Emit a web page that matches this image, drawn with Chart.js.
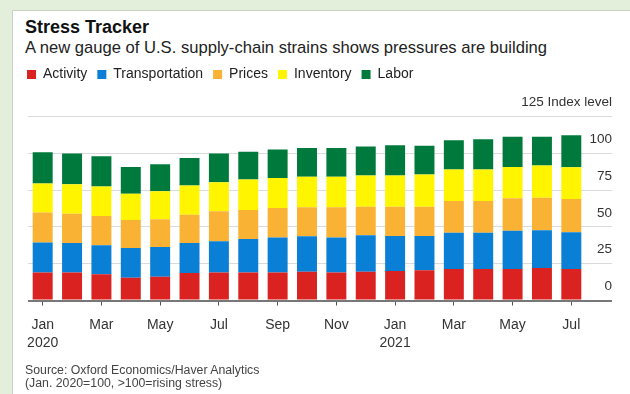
<!DOCTYPE html>
<html>
<head>
<meta charset="utf-8">
<script src="https://cdn.jsdelivr.net/npm/chart.js@4.4.1/dist/chart.umd.min.js"></script>
<style>
  html, body { margin: 0; padding: 0; }
  body {
    width: 630px; height: 394px; position: relative; overflow: hidden;
    background: #e3eedb;
    font-family: "Liberation Sans", Arial, sans-serif;
  }
  #panel {
    position: absolute; left: 12px; top: 10px; right: -2px; bottom: -2px;
    background: #fff; border: 1px solid #c9d5c2;
  }
  #stress { position: absolute; left: 0; top: 0; }
  .txt { position: absolute; left: 25px; line-height: 1; white-space: nowrap; }
  .title { top: 17.5px; font-size: 18px; font-weight: bold; color: #111; }
  .subtitle { top: 39.5px; font-size: 16.6px; color: #222; }
  .source { top: 363.5px; font-size: 12.3px; line-height: 13px; color: #444; }
</style>
</head>
<body>
<div id="panel"></div>
<div class="txt title">Stress Tracker</div>
<div class="txt subtitle">A new gauge of U.S. supply-chain strains shows pressures are building</div>
<canvas id="stress" width="630" height="394"></canvas>
<div class="txt source">Source: Oxford Economics/Haver Analytics<br>(Jan. 2020=100, &gt;100=rising stress)</div>

<script>
const months = ['Jan','Feb','Mar','Apr','May','Jun','Jul','Aug','Sep','Oct','Nov','Dec',
                'Jan','Feb','Mar','Apr','May','Jun','Jul'];
// only every other month gets a label, years under January
const tickLabels = [['Jan','2020'],'','Mar','','May','','Jul','','Sep','','Nov','',
                    ['Jan','2021'],'','Mar','','May','','Jul'];

const activity       = [19.1,19.1,17.8,15.5,16.2,18.7,19.1,19.1,19.1,19.6,19.1,19.6,20.1,20.5,21.4,21.4,21.4,22.1,21.4];
const transportation = [20.3,19.9,19.8,20.1,20.1,20.3,21.2,22.6,23.7,24.1,23.7,24.8,23.8,23.4,24.7,24.7,25.9,25.7,25.0];
const prices         = [20.3,20.0,19.8,19.1,18.9,19.3,20.3,19.8,20.0,19.6,20.5,19.3,19.8,19.8,21.5,21.5,22.1,22.0,22.5];
const inventory      = [19.8,19.9,20.1,17.8,19.1,19.9,19.8,20.7,20.5,20.7,20.7,21.2,21.2,21.9,21.4,21.4,21.3,21.9,21.6];
const labor          = [21.2,20.9,20.5,18.2,18.3,18.6,19.4,18.9,19.2,19.6,19.6,19.8,20.5,19.6,19.8,20.5,20.6,19.6,21.7];

const seriesNames  = ['Activity','Transportation','Prices','Inventory','Labor'];
const seriesValues = [activity, transportation, prices, inventory, labor];
const seriesColors = ['#da2220','#0a7fd6','#f9b233','#fff500','#007a3c'];

Chart.defaults.font.family = '"Liberation Sans", Arial, sans-serif';

// push the plot down a bit below the legend row
const legendGap = {
  id: 'legendGap',
  beforeInit(chart) {
    const fit = chart.legend.fit;
    chart.legend.fit = function () {
      fit.call(this);
      this.height += 25;
    };
  }
};

new Chart(document.getElementById('stress'), {
  type: 'bar',
  data: {
    labels: months,
    datasets: seriesNames.map((name, i) => ({
      label: name,
      data: seriesValues[i],
      xAxisID: 'x',
      yAxisID: 'y',
      backgroundColor: seriesColors[i],
      borderWidth: 0,
      categoryPercentage: 1,
      barPercentage: 0.68
    }))
  },
  options: {
    responsive: false,
    animation: false,
    layout: { padding: { left: 17, right: 18, top: 57.5, bottom: 31.7 } },
    plugins: {
      legend: {
        position: 'top',
        align: 'start',
        labels: { boxWidth: 9, boxHeight: 9, padding: 10, color: '#222', font: { size: 14 } }
      },
      tooltip: { enabled: false }
    },
    scales: {
      x: {
        stacked: true,
        border: { display: false },
        grid: {
          offset: false,
          drawOnChartArea: false,
          tickLength: 5,
          color: ctx => ctx.index % 2 === 0 ? '#555' : 'rgba(0,0,0,0)'
        },
        ticks: {
          autoSkip: false, maxRotation: 0, padding: 10.2,
          color: '#333', font: { size: 14, lineHeight: 1.3 },
          callback: (v, i) => tickLabels[i]
        }
      },
      y: {
        stacked: true,
        position: 'right',
        min: 0, max: 125,
        border: { display: false },
        grid: {
          tickLength: 26,
          color: ctx => ctx.tick.value === 0 ? '#777' : '#dadada',
          lineWidth: ctx => ctx.tick.value === 0 ? 2 : 1
        },
        ticks: {
          stepSize: 25, mirror: true, padding: 26, labelOffset: -14,
          color: '#333', font: { size: 13.5 },
          callback: v => v === 125 ? '125 Index level' : v
        },
        afterFit(s) { s.width = 26; }
      },
      // empty spacer on the left
      pad: {
        type: 'linear', axis: 'y', position: 'left',
        ticks: { display: false }, grid: { display: false }, border: { display: false },
        afterFit(s) { s.width = 11; }
      }
    }
  },
  plugins: [legendGap]
});
</script>
</body>
</html>
